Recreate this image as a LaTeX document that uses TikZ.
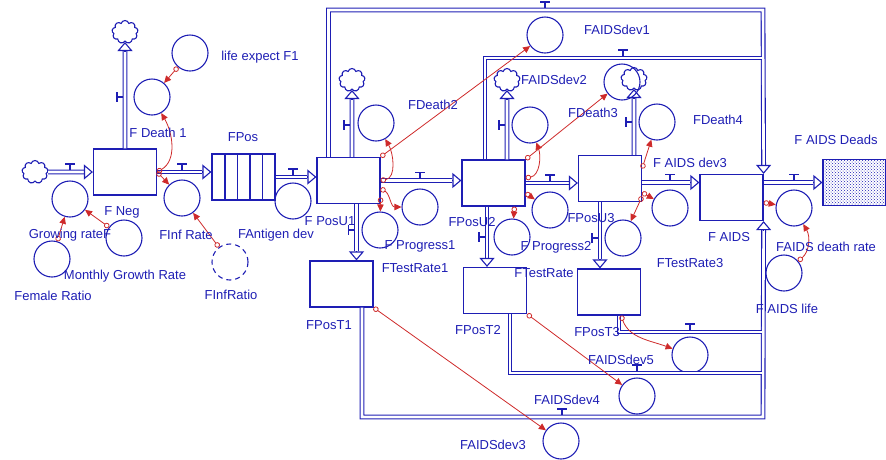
\documentclass[tikz,border=0pt]{standalone}
\usepackage{fontspec}
\setmainfont{Liberation Sans}
\usetikzlibrary{arrows.meta, shapes.symbols, patterns}
\definecolor{ink}{RGB}{30,30,180}
\definecolor{linkred}{RGB}{206,42,42}

\begin{document}
\begin{tikzpicture}[x=1pt, y=-1pt,
  stockbox/.style={draw=ink, line width=1.2pt, minimum width=63pt, minimum height=46pt, inner sep=0pt},
  auxc/.style={circle, draw=ink, line width=1.1pt, minimum size=36pt, inner sep=0pt},
  sinkc/.style={cloud, cloud puffs=9, draw=ink, line width=1.1pt, minimum width=26pt, minimum height=23pt, inner sep=0pt},
  pipeline/.style={draw=ink, line width=1.1pt, double=white, double distance=2.6pt},
  pipehead/.style={draw=ink, line width=1.1pt, -{Triangle[open, length=9pt, width=15pt]}},
  linkarrow/.style={draw=linkred, line width=0.8pt, {Circle[open, length=5.5pt, width=5.5pt]}-{Triangle[length=7pt, width=6.5pt]}},
  lbl/.style={text=ink, font=\fontsize{13}{15}\selectfont, inner sep=1pt}]
\useasboundingbox (0,0) rectangle (886,459);

% stocks
\node[stockbox] (FNeg) at (125,172) {};
\node[stockbox] (FPos) at (243.5,177) {};
\node[stockbox] (U1) at (348.5,180.5) {};
\node[stockbox] (U2) at (493.5,183) {};
\node[stockbox] (U3) at (610,178.5) {};
\node[stockbox] (AIDS) at (731.5,197.5) {};
\node[stockbox, pattern=crosshatch dots, pattern color=ink] (Deads) at (854.5,182.5) {};
\node[stockbox] (T1) at (341.5,284) {};
\node[stockbox] (T2) at (495,290.5) {};
\node[stockbox] (T3) at (609,292) {};
\foreach \x in {225,237.5,250,262.5} \draw[ink, line width=1.2pt] (\x,154) -- (\x,200);

% sources and sinks
\node[sinkc] (cloudL) at (35,172) {};
\node[sinkc] (cloudD1) at (125,32) {};
\node[sinkc] (cloudU1) at (352,80) {};
\node[sinkc] (cloudU2) at (507,80) {};
\node[sinkc] (cloudU3) at (634,79) {};

% converters
\node[auxc] (lifeF1) at (190,53) {};
\node[auxc] (death1) at (152,97) {};
\node[auxc] (growing) at (70,199) {};
\node[auxc] (infrate) at (182,198) {};
\node[auxc] (monthly) at (124,238) {};
\node[auxc] (female) at (52,259) {};
\node[auxc, dash pattern=on 5pt off 4pt] (finfratio) at (230,262) {};
\node[auxc] (antigen) at (293,201) {};
\node[auxc] (death2) at (376,123) {};
\node[auxc] (prog1) at (420,207) {};
\node[auxc] (tr1) at (380,230) {};
\node[auxc] (dev1) at (545,35) {};
\node[auxc] (death3) at (530,125) {};
\node[auxc] (prog2) at (550,210) {};
\node[auxc] (tr2) at (512,237) {};
\node[auxc] (dev2) at (622,82) {};
\node[auxc] (death4) at (657,122) {};
\node[auxc] (dev3aids) at (670,208) {};
\node[auxc] (tr3) at (623,238) {};
\node[auxc] (deathrate) at (794,208) {};
\node[auxc] (aidslife) at (784,273) {};
\node[auxc] (dev3) at (561,441) {};
\node[auxc] (dev4) at (637,396) {};
\node[auxc] (dev5) at (690,355) {};

% loops to F AIDS
\coordinate (topR) at (763,10);
\coordinate (botR) at (763,417);
\coordinate (join2) at (762,58);
\coordinate (join4) at (762,373);
\coordinate (join5) at (762,332);
\draw[pipeline] ([xshift=-20pt]U1.north) |- (topR) -- ([yshift=9pt]AIDS.north east);
\draw[pipehead] ([yshift=9pt]AIDS.north east) -- (AIDS.north east);
\draw[pipeline] ([xshift=20.5pt]T1.south) |- (botR) -- ([yshift=-9pt]AIDS.south east);
\draw[pipehead] ([yshift=-9pt]AIDS.south east) -- (AIDS.south east);
\draw[pipeline] ([xshift=-8.5pt]U2.north) |- (join2);
\draw[pipeline] ([xshift=15pt]T2.south) |- (join4);
\draw[pipeline] ([xshift=10pt]T3.south) |- (join5);

% main flows
\draw[pipeline] (cloudL) -- ([xshift=-9pt]FNeg.west);
\draw[pipehead] ([xshift=-9pt]FNeg.west) -- (FNeg.west);
\draw[pipeline] (FNeg.east) -- ([xshift=-9pt]FNeg.east -| FPos.west);
\draw[pipehead] ([xshift=-9pt]FNeg.east -| FPos.west) -- (FNeg.east -| FPos.west);
\draw[pipeline] (FPos.east) -- ([xshift=-9pt]FPos.east -| U1.west);
\draw[pipehead] ([xshift=-9pt]FPos.east -| U1.west) -- (FPos.east -| U1.west);
\draw[pipeline] (U1.east) -- ([xshift=-9pt]U1.east -| U2.west);
\draw[pipehead] ([xshift=-9pt]U1.east -| U2.west) -- (U1.east -| U2.west);
\draw[pipeline] (U2.east) -- ([xshift=-9pt]U2.east -| U3.west);
\draw[pipehead] ([xshift=-9pt]U2.east -| U3.west) -- (U2.east -| U3.west);
\draw[pipeline] ([yshift=-4pt]U3.east) -- ([xshift=-9pt,yshift=-4pt]U3.east -| AIDS.west);
\draw[pipehead] ([xshift=-9pt,yshift=-4pt]U3.east -| AIDS.west) -- ([yshift=-4pt]U3.east -| AIDS.west);
\draw[pipeline] (Deads.west -| AIDS.east) -- ([xshift=-9pt]Deads.west);
\draw[pipehead] ([xshift=-9pt]Deads.west) -- (Deads.west);

% death flows
\draw[pipeline] (FNeg) -- ([yshift=-9pt]cloudD1.south);
\draw[pipehead] ([yshift=-9pt]cloudD1.south) -- (cloudD1.south);
\draw[pipeline] ([xshift=3.5pt]U1.north) -- ([yshift=-9pt]cloudU1.south);
\draw[pipehead] ([yshift=-9pt]cloudU1.south) -- (cloudU1.south);
\draw[pipeline] ([xshift=13.5pt]U2.north) -- ([yshift=-9pt]cloudU2.south);
\draw[pipehead] ([yshift=-9pt]cloudU2.south) -- (cloudU2.south);
\draw[pipeline] ([xshift=24pt]U3.north) -- ([yshift=-9pt]cloudU3.south);
\draw[pipehead] ([yshift=-9pt]cloudU3.south) -- (cloudU3.south);

% test flows
\draw[pipeline] ([xshift=8pt]U1.south) -- ([xshift=8pt,yshift=9pt]U1.south |- T1.north);
\draw[pipehead] ([xshift=8pt,yshift=9pt]U1.south |- T1.north) -- ([xshift=8pt]U1.south |- T1.north);
\draw[pipeline] ([xshift=-6.5pt]U2.south) -- ([xshift=-6.5pt,yshift=9pt]U2.south |- T2.north);
\draw[pipehead] ([xshift=-6.5pt,yshift=9pt]U2.south |- T2.north) -- ([xshift=-6.5pt]U2.south |- T2.north);
\draw[pipeline] ([xshift=-10pt]U3.south) -- ([xshift=-10pt,yshift=9pt]U3.south |- T3.north);
\draw[pipehead] ([xshift=-10pt,yshift=9pt]U3.south |- T3.north) -- ([xshift=-10pt]U3.south |- T3.north);

% valves
\foreach \vx/\vy in {70/172, 182/172, 293/177, 420/180.5, 550/183, 670/182.5, 794/182.5, 545/10, 623/58, 562/417, 637/373, 690/332}
  \draw[ink, line width=1.1pt] (\vx,\vy-2.4) -- (\vx,\vy-8) (\vx-5,\vy-8) -- (\vx+5,\vy-8);
\foreach \vx/\vy in {125/97, 352/125, 356.5/230, 507/125, 487/237, 634/122, 600/238}
  \draw[ink, line width=1.1pt] (\vx-2.4,\vy) -- (\vx-8,\vy) (\vx-8,\vy-5) -- (\vx-8,\vy+5);

% connectors
\draw[linkarrow] (lifeF1) -- (death1);
\draw[linkarrow] (FNeg.east) to[out=30, in=-60] (death1);
\draw[linkarrow] (FNeg.east) -- (infrate);
\draw[linkarrow] (female) -- (growing);
\draw[linkarrow] (monthly) -- (growing);
\draw[linkarrow] (finfratio) -- (infrate);
\draw[linkarrow] (U1.north east) -- (dev1);
\draw[linkarrow] (U1.east) to[out=10, in=-60] (death2);
\draw[linkarrow] ([yshift=-8pt]U1.east) to[out=-30, in=180] (prog1);
\draw[linkarrow] ([yshift=-17pt]U1.east) -- (tr1);
\draw[linkarrow] (U2.north east) -- (dev2);
\draw[linkarrow] ([yshift=5pt]U2.east) to[out=10, in=-70] (death3);
\draw[linkarrow] ([yshift=-10pt]U2.east) -- (prog2);
\draw[linkarrow] ([xshift=21pt]U2.south) -- (tr2);
\draw[linkarrow] ([yshift=10pt]U3.east) -- (death4);
\draw[linkarrow] ([yshift=-14pt]U3.east) -- (dev3aids);
\draw[linkarrow] ([yshift=-18pt]U3.east) -- (tr3);
\draw[linkarrow] ([yshift=-5pt]AIDS.east) -- (deathrate);
\draw[linkarrow] (aidslife) to[out=40, in=-60] (deathrate);
\draw[linkarrow] (T1.south east) -- (dev3);
\draw[linkarrow] (T2.south east) -- (dev4);
\draw[linkarrow] ([xshift=12pt]T3.south) to[out=-70, in=160] (dev5);

% labels
\node[lbl] (lLife) at (260,57) {life expect F1};
\node[lbl] (lDeath1) at (158,133) {F Death 1};
\node[lbl] (lNeg) at (122,212) {F Neg};
\node[lbl] (lPos) at (243,137) {FPos};
\node[lbl] (lGrow) at (70,235) {Growing rateF};
\node[lbl] (lMonthly) at (125,276) {Monthly Growth Rate};
\node[lbl] (lFemale) at (53,296) {Female Ratio};
\node[lbl] (lInf) at (186,235) {FInf Rate};
\node[lbl] (lAnti) at (276,235) {FAntigen dev};
\node[lbl] (lInfRatio) at (231,295) {FInfRatio};
\node[lbl] (lU1) at (330,221) {F PosU1};
\node[lbl] (lDeath2) at (433,105) {FDeath2};
\node[lbl] (lProg1) at (420,246) {F Progress1};
\node[lbl] (lTr1) at (415,268) {FTestRate1};
\node[lbl] (lT1) at (329,325) {FPosT1};
\node[lbl] (lU2) at (472,222) {FPosU2};
\node[lbl] (lProg2) at (556,247) {F Progress2};
\node[lbl] (lTr2) at (544,273) {FTestRate};
\node[lbl] (lT2) at (478,330) {FPosT2};
\node[lbl] (lU3) at (591,218) {FPosU3};
\node[lbl] (lTr3) at (690,263) {FTestRate3};
\node[lbl] (lT3) at (597,332) {FPosT3};
\node[lbl] (lDeath3) at (593,113) {FDeath3};
\node[lbl] (lDev2) at (554,80) {FAIDSdev2};
\node[lbl] (lDev1) at (617,30) {FAIDSdev1};
\node[lbl] (lDeath4) at (718,120) {FDeath4};
\node[lbl] (lDev3aids) at (690,163) {F AIDS dev3};
\node[lbl] (lAIDS) at (729,237) {F AIDS};
\node[lbl] (lDeads) at (836,140) {F AIDS Deads};
\node[lbl, anchor=west] (lRate) at (775,247) {FAIDS death rate};
\node[lbl] (lLife2) at (787,309) {F AIDS life};
\node[lbl] (lDev5) at (621,360) {FAIDSdev5};
\node[lbl] (lDev4) at (567,400) {FAIDSdev4};
\node[lbl] (lDev3) at (493,445) {FAIDSdev3};
\end{tikzpicture}
\end{document}
